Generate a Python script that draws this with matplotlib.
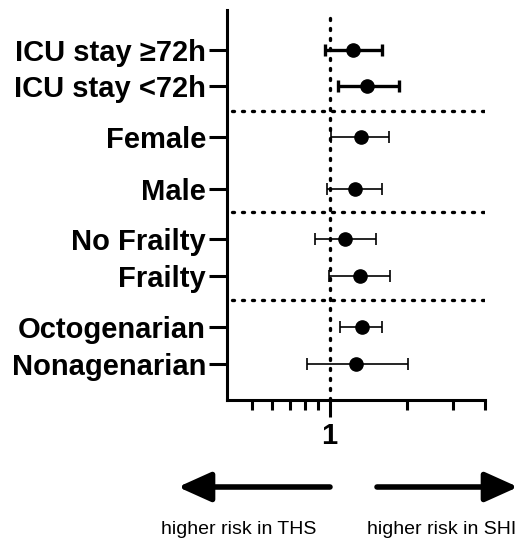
import matplotlib
matplotlib.use("Agg")
import matplotlib.pyplot as plt
from matplotlib.ticker import FixedLocator, NullFormatter, FixedFormatter

plt.rcParams['font.family'] = ['Liberation Sans', 'DejaVu Sans']

# Datos del forest plot
labels = ["ICU stay ≥72h", "ICU stay <72h", "Female", "Male",
          "No Frailty", "Frailty", "Octogenarian", "Nonagenarian"]
estimate = [1.23, 1.40, 1.32, 1.26, 1.15, 1.31, 1.33, 1.27]
ci_low = [0.956, 1.08, 1.01, 0.98, 0.882, 0.995, 1.10, 0.817]
ci_high = [1.59, 1.85, 1.70, 1.60, 1.52, 1.71, 1.59, 2.02]
thick = [True, True, False, False, False, False, False, False]

# posiciones de las filas (escala invertida) y separadores
rows = [50, 86, 137, 189, 239, 276, 327, 364]
separators = [111, 212, 300]

fig = plt.figure(figsize=(5.24, 5.38), dpi=100)
ax = fig.add_axes([0.433, 0.2565, 0.4924, 0.725])

ax.set_xscale('log')
ax.set_xlim(0.4, 4)
ax.set_ylim(400, 10)

# Linea vertical en 1 y separadores horizontales
ax.axvline(1, color='black', linestyle=(0, (0.6, 2.4)), lw=2.4,
           dash_capstyle='round', zorder=1)
for s in separators:
    ax.plot([0.42, 3.95], [s, s], color='black', linestyle=(0, (0.6, 2.4)),
            lw=2.4, dash_capstyle='round', zorder=1)

for y, est, lo, hi, tk in zip(rows, estimate, ci_low, ci_high, thick):
    lw = 2.4 if tk else 1.2
    ax.errorbar([est], [y], xerr=[[est - lo], [hi - est]], fmt='o',
                color='black', markersize=9.5, elinewidth=lw,
                capsize=4.5, capthick=lw, zorder=3)

# Ejes
for side in ['top', 'right']:
    ax.spines[side].set_visible(False)
ax.spines['left'].set_linewidth(2.2)
ax.spines['bottom'].set_linewidth(2.2)

ax.set_yticks(rows)
ax.set_yticklabels(labels, fontsize=21, fontweight='bold')
ax.tick_params(axis='y', length=13, width=2.2, pad=2)

ax.xaxis.set_major_locator(FixedLocator([1]))
ax.xaxis.set_major_formatter(FixedFormatter(["1"]))
ax.xaxis.set_minor_locator(FixedLocator([0.5, 0.6, 0.7, 0.8, 0.9, 2, 3, 4]))
ax.xaxis.set_minor_formatter(NullFormatter())
ax.tick_params(axis='x', which='major', length=12, width=2.2, labelsize=21, pad=4)
ax.tick_params(axis='x', which='minor', length=7, width=2.2)
for t in ax.get_xticklabels():
    t.set_fontweight('bold')

# Flechas
arrow_kw = dict(arrowstyle='-|>,head_length=2.0,head_width=0.9', color='black',
                lw=4, capstyle='round', shrinkA=0, shrinkB=0)
ax.annotate('', xy=(178, 51), xycoords='figure pixels',
            xytext=(330, 51), textcoords='figure pixels', arrowprops=arrow_kw)
ax.annotate('', xy=(518, 51), xycoords='figure pixels',
            xytext=(377, 51), textcoords='figure pixels', arrowprops=arrow_kw)

fig.text(239 / 524, 1 - 529 / 538, "higher risk in THS", ha='center', va='center', fontsize=14)
fig.text(442 / 524, 1 - 529 / 538, "higher risk in SHI", ha='center', va='center', fontsize=14)

fig.savefig("out.png", dpi=100)
